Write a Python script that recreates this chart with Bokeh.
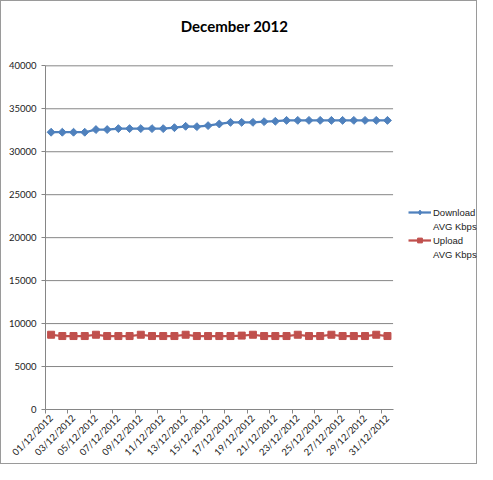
import math
from bokeh.plotting import figure
from bokeh.models import FixedTicker, Legend, LegendItem, Range1d, Label
from bokeh.embed import file_html
from bokeh.resources import INLINE

dates = ["01/12/2012", "02/12/2012", "03/12/2012", "04/12/2012", "05/12/2012",
         "06/12/2012", "07/12/2012", "08/12/2012", "09/12/2012", "10/12/2012",
         "11/12/2012", "12/12/2012", "13/12/2012", "14/12/2012", "15/12/2012",
         "16/12/2012", "17/12/2012", "18/12/2012", "19/12/2012", "20/12/2012",
         "21/12/2012", "22/12/2012", "23/12/2012", "24/12/2012", "25/12/2012",
         "26/12/2012", "27/12/2012", "28/12/2012", "29/12/2012", "30/12/2012",
         "31/12/2012"]

download = [32270, 32270, 32270, 32270, 32580, 32580, 32690, 32690, 32690, 32690,
            32690, 32800, 32960, 32920, 33040, 33230, 33420, 33420, 33420, 33500,
            33550, 33650, 33650, 33650, 33650, 33650, 33650, 33650, 33650, 33650,
            33650]

upload = [8700, 8550, 8550, 8550, 8700, 8550, 8550, 8550, 8700, 8550,
          8550, 8550, 8700, 8550, 8550, 8550, 8550, 8600, 8700, 8550,
          8550, 8550, 8700, 8550, 8550, 8700, 8550, 8550, 8550, 8700,
          8550]

y_ticks = [0, 5000, 10000, 15000, 20000, 25000, 30000, 35000, 40000]

series_line1 = ["Download", "Upload"]
series_line2 = ["AVG Kbps", "AVG Kbps"]
title_text = "December 2012"

FONT = "Lato"
LEGEND_FONT = "Liberation Sans"
GRID = "#868686"
BLUE = "#4F81BD"
RED = "#C0504D"

# layout (pixels)
W, H = 477, 464
LEFT, BOTTOM = 44, 56
FRAME_W = W - LEFT - 2
FRAME_H = H - BOTTOM - 2
CAT_PX = 11.16          # width of one category
PLOT_H = 342            # height of the 0..40000 value area

n = len(dates)
xs = list(range(n))
x0, x1 = -0.5, n - 0.5
NAN = float("nan")

p = figure(width=W, height=H, output_backend="svg", toolbar_location=None,
           x_range=Range1d(x0, x0 + FRAME_W / CAT_PX),
           y_range=Range1d(y_ticks[0], y_ticks[-1] * FRAME_H / PLOT_H),
           min_border_left=LEFT, min_border_right=0, min_border_top=0,
           min_border_bottom=BOTTOM)
p.title.visible = False
p.styles = {"border": "1px solid #9a9a9a", "box-sizing": "border-box"}
p.outline_line_color = None
p.background_fill_color = "white"
p.border_fill_color = "white"

# gridlines limited to the plot area
p.xgrid.visible = False
p.ygrid.visible = False
p.segment(x0=[x0] * len(y_ticks), x1=[x1] * len(y_ticks), y0=y_ticks, y1=y_ticks,
          line_color=GRID, line_width=1)

# y axis
p.yaxis.ticker = FixedTicker(ticks=y_ticks)
p.yaxis.bounds = (y_ticks[0], y_ticks[-1])
p.yaxis.axis_line_color = GRID
p.yaxis.major_tick_line_color = GRID
p.yaxis.major_tick_out = 4
p.yaxis.major_tick_in = 0
p.yaxis.minor_tick_line_color = None
p.yaxis.major_label_standoff = 5
p.yaxis.major_label_text_font = FONT
p.yaxis.major_label_text_font_size = "9.5px"
p.yaxis.major_label_text_color = "#222222"

# x axis
label_pos = xs[::2]
tick_pos = [i - 0.5 for i in xs[::2]]
p.xaxis.ticker = FixedTicker(ticks=label_pos, minor_ticks=tick_pos)
p.xaxis.bounds = (x0, x1)
p.xaxis.major_label_overrides = {i: dates[i] for i in label_pos}
p.xaxis.axis_line_color = GRID
p.xaxis.major_tick_line_color = None
p.xaxis.major_tick_out = 0
p.xaxis.major_tick_in = 0
p.xaxis.minor_tick_line_color = GRID
p.xaxis.minor_tick_out = 4
p.xaxis.minor_tick_in = 0
p.xaxis.major_label_orientation = math.pi / 4
p.xaxis.major_label_standoff = 3
p.xaxis.major_label_text_font = FONT
p.xaxis.major_label_text_font_size = "9.5px"
p.xaxis.major_label_text_color = "#222222"

# series
ld = p.line(xs, download, line_color=BLUE, line_width=2.25)
sd = p.scatter(xs, download, marker="square", angle=math.pi / 4, size=5.6,
               fill_color=BLUE, line_color=BLUE)
lu = p.line(xs, upload, line_color=RED, line_width=2.25)
su = p.scatter(xs, upload, marker="square", size=7, fill_color=RED, line_color=RED)
# legend-only renderers (not drawn in the plot)
blank = p.scatter(x=[NAN], y=[NAN], fill_alpha=0, line_alpha=0)
d_key = p.scatter(x=[NAN], y=[NAN], marker="diamond", size=8,
                  fill_color=BLUE, line_color=BLUE)

# title
p.add_layout(Label(x=189, y=FRAME_H - 22, x_units="screen", y_units="screen",
                   text=title_text, text_font=FONT, text_font_size="15px",
                   text_font_style="bold", text_color="#000000",
                   text_align="center", text_baseline="middle"))

legend = Legend(items=[LegendItem(label=series_line1[0], renderers=[ld, d_key]),
                       LegendItem(label=series_line2[0], renderers=[blank]),
                       LegendItem(label=series_line1[1], renderers=[lu, su]),
                       LegendItem(label=series_line2[1], renderers=[blank])],
                location=(363, FRAME_H - 257))
legend.border_line_color = None
legend.background_fill_alpha = 0
legend.padding = 0
legend.margin = 0
legend.spacing = 2
legend.glyph_width = 23
legend.glyph_height = 12
legend.label_height = 12
legend.label_standoff = 2
legend.label_text_font = LEGEND_FONT
legend.label_text_font_size = "9.5px"
legend.label_text_color = "#222222"
legend.label_text_baseline = "middle"
p.add_layout(legend, "center")

open("out.html", "w").write(file_html(p, INLINE))
